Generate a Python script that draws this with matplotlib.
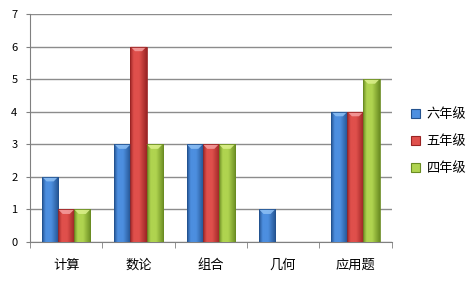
import matplotlib
matplotlib.use('Agg')
import matplotlib.pyplot as plt
import matplotlib.patches as patches
import numpy as np
from matplotlib.colors import LinearSegmentedColormap

plt.rcParams['font.family'] = ['Noto Sans CJK SC', 'DejaVu Sans']

categories = ['计算', '数论', '组合', '几何', '应用题']
series_names = ['六年级', '五年级', '四年级']
grade6 = [2, 3, 3, 1, 4]
grade5 = [1, 6, 3, 0, 4]
grade4 = [1, 3, 3, 0, 5]

# (dark edge, light highlight, cap colour) per series
palettes = [
    ('#23528f', '#4d8fe0', '#8ec0f5'),
    ('#9a2424', '#e0504c', '#f5a0a0'),
    ('#6a8c22', '#b0d450', '#dcf08c'),
]

fig = plt.figure(figsize=(4.77, 2.87), dpi=100, facecolor='white')
ax = fig.add_axes([0.063, 0.157, 0.758, 0.794])

x = np.arange(len(categories))
bw = 0.222
offsets = [-bw, 0, bw]

for vals, off, (dark, light, cap), name in zip([grade6, grade5, grade4], offsets, palettes, series_names):
    bars = ax.bar(x + off, vals, width=bw, color=light, edgecolor='none', zorder=3, label=name)
    cmap = LinearSegmentedColormap.from_list(name, [dark, light, light, dark], N=256)
    grad = np.concatenate([np.linspace(0, 0.45, 30), np.linspace(0.5, 1, 70)])[None, :]
    for b in bars:
        h = b.get_height()
        if h <= 0:
            continue
        x0 = b.get_x()
        w = b.get_width()
        im = ax.imshow(grad, cmap=cmap, aspect='auto', extent=(x0, x0 + w, 0, h),
                       interpolation='bicubic', zorder=3.1)
        im.set_clip_path(b)
        # bevelled top cap
        ch = 0.14
        cap_poly = patches.Polygon([(x0, h), (x0 + w, h), (x0 + w * 0.72, h - ch), (x0 + w * 0.28, h - ch)],
                                   closed=True, facecolor=cap, edgecolor='none', alpha=0.85, zorder=3.2)
        ax.add_patch(cap_poly)
        ax.add_patch(patches.Rectangle((x0, 0), w, h, fill=False, edgecolor=dark, lw=0.6, zorder=3.3))

ax.set_xlim(-0.5, len(categories) - 0.5)
ax.set_ylim(0, 7)
ax.set_yticks(range(0, 8))
ax.set_xticks(x)
ax.set_xticklabels(categories, fontsize=9.5)
ax.set_xticks(np.arange(-0.5, len(categories)), minor=True)
ax.tick_params(axis='x', which='major', length=0, pad=12)
ax.tick_params(axis='x', which='minor', length=4, color='#808080', direction='out')
ax.tick_params(axis='y', length=3, color='#808080', labelsize=8, pad=6)
ax.grid(axis='y', color='#8c8c8c', lw=1, zorder=0)
for s in ['top', 'right']:
    ax.spines[s].set_visible(False)
for s in ['left', 'bottom']:
    ax.spines[s].set_color('#808080')

handles = [patches.Patch(facecolor=p[1], edgecolor=p[0], lw=0.8) for p in palettes]
ax.legend(handles, series_names, loc='center left', bbox_to_anchor=(1.02, 0.44), frameon=False,
          fontsize=9.5, handlelength=0.7, handleheight=0.7, handletextpad=0.5, labelspacing=1.05)

fig.savefig('out.png', dpi=100, facecolor='white')
